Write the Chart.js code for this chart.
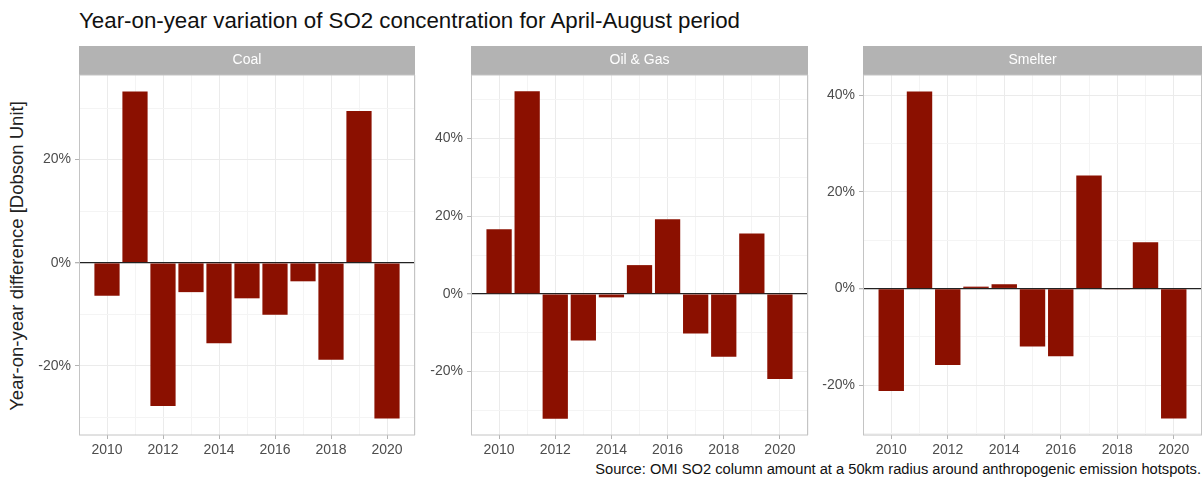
<!DOCTYPE html>
<html><head><meta charset="utf-8">
<script src="https://cdn.jsdelivr.net/npm/chart.js@4"></script>
<style>
body{margin:0;width:1202px;height:480px;background:#fff;font-family:"Liberation Sans",Arial,sans-serif;position:relative;overflow:hidden}
.p{position:absolute;top:46px;height:414px}
#title{position:absolute;left:79px;top:8px;font-size:22.3px;color:#111}
#ytitle{position:absolute;left:17px;top:256px;transform:translate(-50%,-50%) rotate(-90deg);white-space:nowrap;font-size:18.5px;color:#222}
#src{position:absolute;right:1px;top:461px;font-size:14.7px;color:#111}
</style></head><body>
<div id="title">Year-on-year variation of SO2 concentration for April-August period</div>
<div id="ytitle">Year-on-year difference [Dobson Unit]</div>
<div id="src">Source: OMI SO2 column amount at a 50km radius around anthropogenic emission hotspots.</div>
<div class="p" style="left:29px;width:389px"><canvas id="c0"></canvas></div>
<div class="p" style="left:421px;width:390px"><canvas id="c1"></canvas></div>
<div class="p" style="left:813px;width:392px"><canvas id="c2"></canvas></div>
<script>
const years=[2010,2011,2012,2013,2014,2015,2016,2017,2018,2019,2020];
const panels=["Coal","Oil & Gas","Smelter"];
const coal=[-6.4,33.2,-27.8,-5.7,-15.6,-6.9,-10.1,-3.6,-18.8,29.4,-30.2];
const oilGas=[16.6,52.1,-32.1,-12.0,-0.9,7.4,19.2,-10.2,-16.2,15.5,-21.9];
const smelter=[-21.2,40.8,-15.8,0.4,0.9,-12.0,-14.0,23.4,-0.1,9.6,-26.9];
const series=[coal,oilGas,smelter];
const ranges=[[-33.4,36.4],[-36.3,56.3],[-30.3,44.2]];

const frame={id:'frame',afterDraw(c){
  const a=c.chartArea,x=c.ctx;
  x.save();
  x.fillStyle='#b3b3b3';x.fillRect(a.left,a.top-29,a.right-a.left,29);
  x.fillStyle='#fff';x.font='14px "Liberation Sans",Arial';x.textAlign='center';x.textBaseline='middle';
  x.fillText(c.options.plugins.frame.label,(a.left+a.right)/2,a.top-14.5);
  x.strokeStyle='#c4c4c4';x.lineWidth=1;x.strokeRect(a.left+0.5,a.top,a.right-a.left-1,a.bottom-a.top);
  x.restore();
}};
series.forEach((vals,i)=>{
  new Chart(document.getElementById('c'+i),{
    type:'bar',
    data:{datasets:[{data:years.map((y,j)=>({x:y,y:vals[j]})),backgroundColor:'#8b1000',barPercentage:0.9,categoryPercentage:1}]},
    options:{responsive:true,maintainAspectRatio:false,animation:false,
      layout:{padding:{top:29,right:0,left:0,bottom:0}},
      plugins:{legend:{display:false},tooltip:{enabled:false},frame:{label:panels[i]}},
      scales:{
        x:{type:'linear',min:2009,max:2021,offset:false,
          afterBuildTicks(s){s.ticks=[];for(let y=2009;y<=2021;y++)s.ticks.push({value:y});},
          afterFit(s){s.height=25;},
          ticks:{autoSkip:false,maxRotation:0,color:'#4d4d4d',font:{size:14,family:'"Liberation Sans",Arial'},padding:3,
            callback:v=>(v%2===0&&v>=2010&&v<=2020)?String(v):''},
          grid:{offset:false,color:c=>c.tick&&c.tick.value%2===0?'#ebebeb':'#f4f4f4',drawTicks:true,tickLength:4,tickColor:c=>c.tick&&c.tick.value%2===0&&c.tick.value>=2010&&c.tick.value<=2020?'#b3b3b3':'rgba(0,0,0,0)'},
          border:{display:false}},
        y:{min:ranges[i][0],max:ranges[i][1],
          afterBuildTicks(s){s.ticks=[];for(let v=-60;v<=60;v+=10)if(v>=s.min&&v<=s.max)s.ticks.push({value:v});},
          afterFit(s){s.width=50;},
          ticks:{autoSkip:false,color:'#4d4d4d',font:{size:14,family:'"Liberation Sans",Arial'},padding:4,
            callback:v=>v%20===0?v+'%':''},
          grid:{color:c=>{const v=c.tick&&c.tick.value;return v===0?'#222':(v%20===0?'#ebebeb':'#f4f4f4');},
            lineWidth:c=>c.tick&&c.tick.value===0?1.3:1,tickLength:4,
            tickColor:c=>c.tick&&c.tick.value%20===0?'#b3b3b3':'rgba(0,0,0,0)'},
          border:{display:false}}
      }},
    plugins:[frame]
  });
});
</script></body></html>
